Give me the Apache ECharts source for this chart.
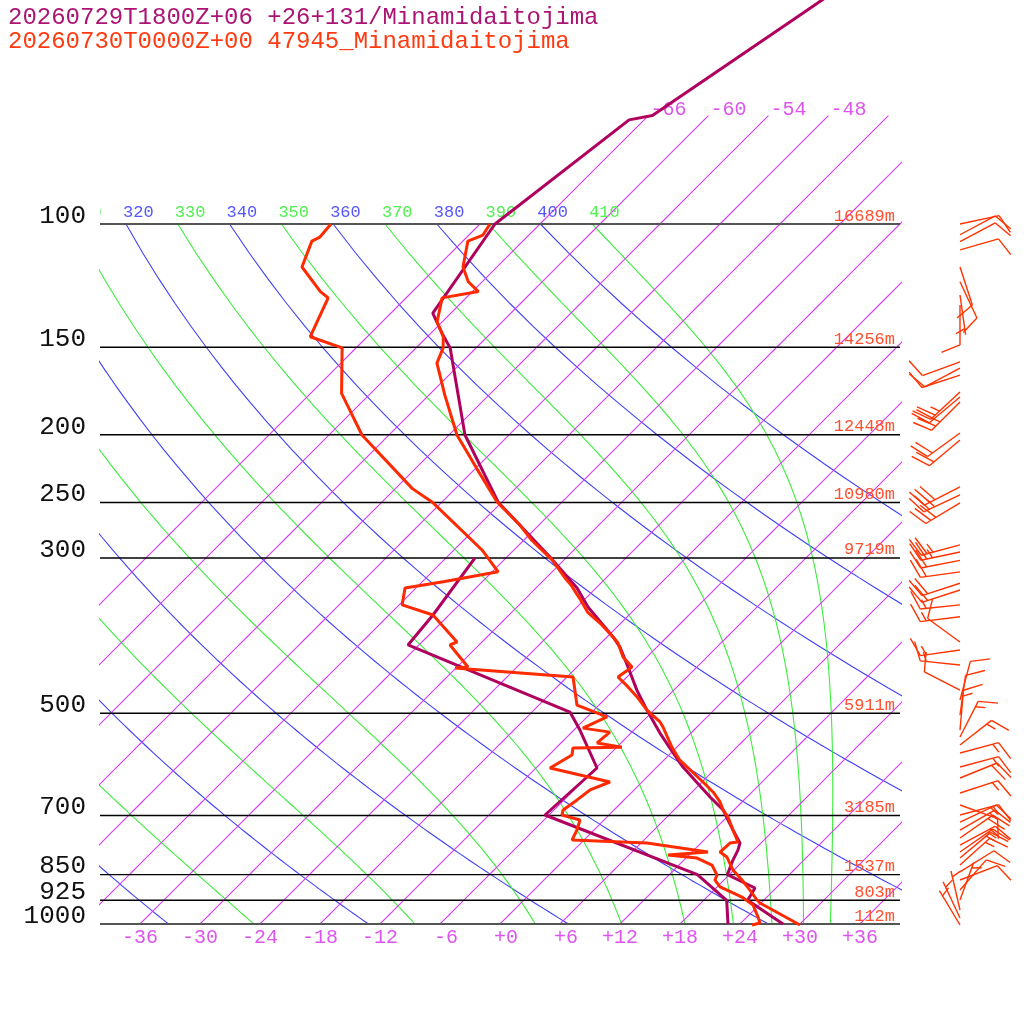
<!DOCTYPE html>
<html><head><meta charset="utf-8">
<script src="https://cdn.jsdelivr.net/npm/echarts@6/dist/echarts.min.js"></script>
<style>html,body{margin:0;padding:0;background:#fff}#c{width:1024px;height:1024px}</style>
</head><body><div id="c"></div>
<script>
// ---------------- data ----------------
const titleModel = '20260729T1800Z+06 +26+131/Minamidaitojima';
const titleObs   = '20260730T0000Z+00 47945_Minamidaitojima';

const isobarP       = [100, 150, 200, 250, 300, 500, 700, 850, 925, 1000];
const isobarLabels  = ['100','150','200','250','300','500','700','850','925','1000'];
const isobarHeights = ['16689m','14256m','12448m','10980m','9719m','5911m','3185m','1537m','803m','112m'];

const tempTicks   = [-36,-30,-24,-18,-12,-6,0,6,12,18,24,30,36];
const isothermT   = [-72,-66,-60,-54,-48,-42,-36,-30,-24,-18,-12,-6,0,6,12,18,24,30,36];
const isothermLabelT = [-66,-60,-54,-48];
const dryTheta    = [240,260,280,300,320,340,360,380,400];
const moistThetaE = [250,270,290,310,330,350,370,390,410];

// model sounding (purple)
const modelTP = [40,50,70,71,100,134.1,144.1,150.3,200.2,249.5,299.1,331.1,352.5,389.0,402.1,429.4,463.3,494.8,533.6,560.6,596.7,658.4,687.1,734.1,766.2,784.1,810.3,850,888.4,925,1000];
const modelT  = [-57.7,-60.8,-65.6,-67.5,-70.5,-67.8,-64.6,-62.6,-52.4,-42.4,-31.7,-25.9,-22.9,-17.4,-15.7,-12.9,-9.7,-6.7,-3.1,-0.6,2.6,8.3,10.9,13.9,15.9,16.4,16.9,17.8,21.9,22.4,28.3];
const modelTdP = [300,361.9,399.4,498,528.4,598.6,698.7,850,925,1000];
const modelTd  = [-39.1,-37.6,-37.1,-14.2,-11.4,-5.9,-6.4,14.8,20.3,22.8];

// observed sounding (red)
const obsTP = [100,103.7,105.8,115.2,120.9,124.9,127.5,138.0,144.9,150.3,158.0,175.6,200.2,223.4,249.5,269.2,283.0,302.4,319.8,328.5,342.6,358.7,371.6,389.0,396.8,415.5,429.4,443.7,458.5,473.8,494.8,514.5,523.1,558.9,583.4,626.8,647.7,669.3,687.1,703.3,734.1,763.6,766.2,789.2,802.4,837.3,865.3,894.4,924.1,933.3,1003.3];
const obsT  = [-71.0,-70.6,-71.5,-69.4,-67.4,-65.4,-68.4,-66.5,-64.4,-63.3,-62.4,-58.4,-53.2,-47.9,-42.5,-37.9,-35.2,-31.1,-28.2,-26.7,-24.6,-22.4,-20.1,-17.4,-16.3,-14.4,-12.5,-12.9,-10.9,-9.0,-6.7,-4.2,-3.4,-0.5,1.6,6.1,8.1,9.8,10.9,12.1,13.9,15.6,14.9,14.8,16.0,17.9,19.8,21.6,23.3,23.9,30.1];
const obsTdP = [100,104.4,105.8,115.2,124.9,127.5,144.9,150.3,174.6,200.2,238.8,249.5,292.2,314.0,324.4,331.1,350.0,361.9,395.5,399.4,429.4,430.7,443.7,486.6,506.1,525.0,532.0,551.2,558.9,560.6,573.5,598.6,626.8,643.4,664.9,687.1,698.7,710.3,734.1,758.4,766.2,789.2,797.1,805.0,823.7,851.1,865.3,885.3,903.0,915.2,939.4,977.2,996.7,1003.3];
const obsTd  = [-86.9,-86.7,-87.1,-85.5,-81.2,-79.8,-77.7,-73.4,-68.9,-62.7,-52.3,-49.0,-39.2,-35.4,-39.9,-43.1,-41.7,-37.6,-32.5,-32.9,-28.9,-30.1,-17.4,-14.2,-10.0,-11.3,-8.2,-8.4,-5.5,-10.3,-9.7,-10.6,-3.2,-4.4,-4.7,-5.1,-4.7,-2.4,-1.7,-1.2,6.6,13.6,9.9,13.1,15.3,16.8,17.1,18.3,20.2,21.5,23.4,25.1,25.9,25.3];

// observed winds: pressure (hPa), direction (deg), speed (kt)
const windP   = [100,103.6,106,108.9,115.2,120.9,126.3,130.5,157.4,160.6,164.4,173.8,176.7,179.6,198.9,203.5,237.5,243.8,250.3,287.4,294.1,302.4,314.0,326.0,333.3,350.0,364.0,395.5,406.1,426.6,463.3,478.6,502.8,528.4,540.6,555.0,569.8,596.7,618.6,650.0,676.1,698.7,715.0,734.1,753.6,771.2,789.2,805.0,823.7,842.6,865.3,894.4,924.1,955.0,980.5,1003.3];
const windDir = [78,62,62,74,162,155,172,180,250,242,252,227,230,225,234,230,243,245,239,255,258,259,262,252,252,264,263,306,262,276,297,15,8,5,27,52,75,75,68,72,110,75,65,60,55,62,55,50,48,58,69,41,20,347,335,329];
const windSpd = [10,10,10,10,10,10,5,10,10,10,10,25,20,25,20,20,30,25,30,25,25,20,20,20,20,15,15,10,15,15,10,10,10,15,15,15,15,15,20,15,10,15,15,15,20,15,15,15,15,10,10,10,5,5,5,5];

// ---------------- diagram helpers ----------------
const SKEW = 70;                 // skew: degrees C per decade of pressure
const P_TOP = 1000 * Math.pow(10, -924 / 700);
const BARB_X = 46;               // wind barb column, in skewed-x units
const MONO = '"Liberation Mono", "DejaVu Sans Mono", monospace';
const ISO_COLOR = 'rgb(214,58,246)';

function skewX(T, p) { return T + SKEW * Math.log10(1000 / p); }

function dryAdiabat(theta) {
  const pts = [];
  for (let p = 100; p <= 1000; p += 10) {
    pts.push([skewX(theta * Math.pow(p / 1000, 0.2857) - 273.15, p), p]);
  }
  return pts;
}
function moistAdiabat(thetaE) {
  const Rd = 287.04, Cp = 1005.7, Lv = 2.501e6, eps = 0.622;
  const f = (p, T) => {
    const tc = T - 273.15;
    const es = 6.112 * Math.exp(17.67 * tc / (tc + 243.5));
    const rs = eps * es / (p - es);
    return (Rd * T + Lv * rs) / (p * (Cp + Lv * Lv * rs * eps / (Rd * T * T)));
  };
  let p = 100, T = thetaE * Math.pow(0.1, 0.2857);
  const pts = [[skewX(T - 273.15, p), p]];
  const dp = 2;
  let n = 0;
  while (p < 999.999) {
    const k1 = f(p, T), k2 = f(p + dp, T + dp * k1);
    T += dp * (k1 + k2) / 2; p += dp; n++;
    if (n % 5 === 0) pts.push([skewX(T - 273.15, p), p]);
  }
  return pts;
}
function isotherm(T) {
  const top = T <= -72 ? 100 : 70;
  const pts = [];
  for (let p = 1000; p >= top; p -= 10) pts.push([skewX(T, p), p]);
  if (pts[pts.length - 1][1] !== top) pts.push([skewX(T, top), top]);
  return pts;
}
function pad3(s) { while (s.length < 3) s = ' ' + s; return s; }

const series = [];
// isotherms
isothermT.forEach(T => series.push({ type: 'line', name: 'iso' + T, silent: true, symbol: 'none', animation: false, z: 2,
  itemStyle: { color: ISO_COLOR }, lineStyle: { color: ISO_COLOR, width: 1.1, opacity: 1 }, data: isotherm(T) }));
dryTheta.forEach(th => series.push({ type: 'line', silent: true, symbol: 'none', animation: false, z: 1,
  itemStyle: { color: 'rgb(64,64,248)' }, lineStyle: { color: 'rgb(64,64,248)', width: 1.1 }, data: dryAdiabat(th) }));
moistThetaE.forEach(th => series.push({ type: 'line', silent: true, symbol: 'none', animation: false, z: 1,
  itemStyle: { color: 'rgb(60,236,60)' }, lineStyle: { color: 'rgb(60,236,60)', width: 1.1 }, data: moistAdiabat(th) }));

// adiabat labels at 100 hPa (clipped to plot)
const adiabatLabels = dryTheta.map(t => [t, 'dry']).concat(moistThetaE.map(t => [t, 'moist']));
series.push({ type: 'custom', silent: true, animation: false, clip: true, z: 3,
  data: adiabatLabels.map(a => [skewX(a[0] * Math.pow(0.1, 0.2857) - 273.15, 100), 100]),
  renderItem: (params, api) => {
    const c = api.coord([api.value(0), api.value(1)]);
    const a = adiabatLabels[params.dataIndex];
    return { type: 'text', x: c[0] - 3, y: c[1] - 12,
      style: { text: String(a[0]), fill: a[1] === 'dry' ? 'rgb(86,86,255)' : 'rgb(79,240,79)',
        font: '17px ' + MONO, align: 'left', verticalAlign: 'middle' } };
  } });

// isotherm labels at 70 hPa
series.push({ type: 'custom', silent: true, animation: false, clip: false, z: 3,
  data: isothermLabelT.map(T => [skewX(T, 70), 70]),
  renderItem: (params, api) => {
    const c = api.coord([api.value(0), api.value(1)]);
    return { type: 'text', x: c[0] + 2, y: c[1] - 6,
      style: { text: String(isothermLabelT[params.dataIndex]), fill: 'rgb(221,85,238)',
        font: '20px ' + MONO, align: 'left', verticalAlign: 'middle' } };
  } });

// isobars with pressure labels and heights
series.push({ type: 'custom', silent: true, animation: false, clip: false, z: 4,
  data: isobarP.map(p => [0, p]),
  renderItem: (params, api) => {
    const i = params.dataIndex, p = api.value(1);
    const l = api.coord([-40, p]), r = api.coord([40, p]);
    const edge = (p === 100 || p === 1000);
    return { type: 'group', children: [
      { type: 'line', shape: { x1: l[0], y1: l[1], x2: r[0], y2: r[1] },
        style: { stroke: edge ? 'rgb(85,85,85)' : 'rgb(0,0,0)', lineWidth: edge ? 2 : 1.4 } },
      { type: 'text', x: l[0] - 14, y: l[1] - 8,
        style: { text: isobarLabels[i], fill: 'rgb(17,17,17)', font: '26px ' + MONO, align: 'right', verticalAlign: 'middle' } },
      { type: 'text', x: r[0] - 5, y: r[1] - 8,
        style: { text: isobarHeights[i], fill: 'rgb(255,80,48)', font: '17px ' + MONO, align: 'right', verticalAlign: 'middle' } }
    ] };
  } });

// soundings
function sounding(P, T, color, z) {
  return { type: 'line', silent: true, symbol: 'none', animation: false, clip: false, z: z,
    itemStyle: { color: color }, lineStyle: { color: color, width: 3 }, data: P.map((p, i) => [skewX(T[i], p), p]) };
}
series.push(sounding(modelTP, modelT, 'rgb(176,0,94)', 6));
series.push(sounding(modelTdP, modelTd, 'rgb(176,0,94)', 6));
series.push(sounding(obsTP, obsT, 'rgb(255,42,0)', 7));
series.push(sounding(obsTdP, obsTd, 'rgb(255,42,0)', 7));

// wind barbs
series.push({ type: 'custom', silent: true, animation: false, clip: false, z: 8,
  data: windP.map((p, i) => [BARB_X, p, windDir[i], windSpd[i]]),
  renderItem: (params, api) => {
    const base = api.coord([api.value(0), api.value(1)]);
    const dir = api.value(2) * Math.PI / 180, spd = api.value(3);
    const L = 40, BL = 20, SP = 6;
    const ux = Math.sin(dir), uy = -Math.cos(dir);
    const tip = [base[0] + L * ux, base[1] + L * uy];
    const a = Math.atan2(uy, ux) + 68 * Math.PI / 180;
    const bx = Math.cos(a), by = Math.sin(a);
    const st = { stroke: 'rgb(255,51,0)', lineWidth: 1.4 };
    const ch = [{ type: 'line', shape: { x1: base[0], y1: base[1], x2: tip[0], y2: tip[1] }, style: st }];
    let n10 = Math.floor(spd / 10), n5 = (spd % 10) >= 5 ? 1 : 0, pos = 0;
    for (let k = 0; k < n10; k++) {
      const s = [tip[0] - pos * ux, tip[1] - pos * uy];
      ch.push({ type: 'line', shape: { x1: s[0], y1: s[1], x2: s[0] + BL * bx, y2: s[1] + BL * by }, style: st });
      pos += SP;
    }
    if (n5) {
      if (n10 === 0) pos = SP;
      const s = [tip[0] - pos * ux, tip[1] - pos * uy];
      ch.push({ type: 'line', shape: { x1: s[0], y1: s[1], x2: s[0] + BL / 2 * bx, y2: s[1] + BL / 2 * by }, style: st });
    }
    return { type: 'group', children: ch };
  } });

const chart = echarts.init(document.getElementById('c'), null, { renderer: 'canvas' });
chart.setOption({
  animation: false,
  backgroundColor: '#fff',
  title: [
    { text: titleModel, left: 8, top: 6, padding: 0, textStyle: { color: 'rgb(172,20,116)', fontFamily: MONO, fontSize: 24, fontWeight: 'normal' } },
    { text: titleObs, left: 8, top: 30, padding: 0, textStyle: { color: 'rgb(255,58,16)', fontFamily: MONO, fontSize: 24, fontWeight: 'normal' } }
  ],
  grid: { left: 100, right: 124, top: 0, bottom: 100, containLabel: false },
  xAxis: { type: 'value', min: -40, max: 40,
    axisLine: { show: false }, axisTick: { show: false }, splitLine: { show: false },
    axisLabel: { customValues: tempTicks, margin: 4, color: 'rgb(221,85,238)', fontFamily: MONO, fontSize: 20,
      formatter: v => pad3(v >= 0 ? '+' + v : String(v)) } },
  yAxis: { type: 'log', logBase: 10, inverse: true, min: P_TOP, max: 1000, show: false },
  series: series
});
</script></body></html>
